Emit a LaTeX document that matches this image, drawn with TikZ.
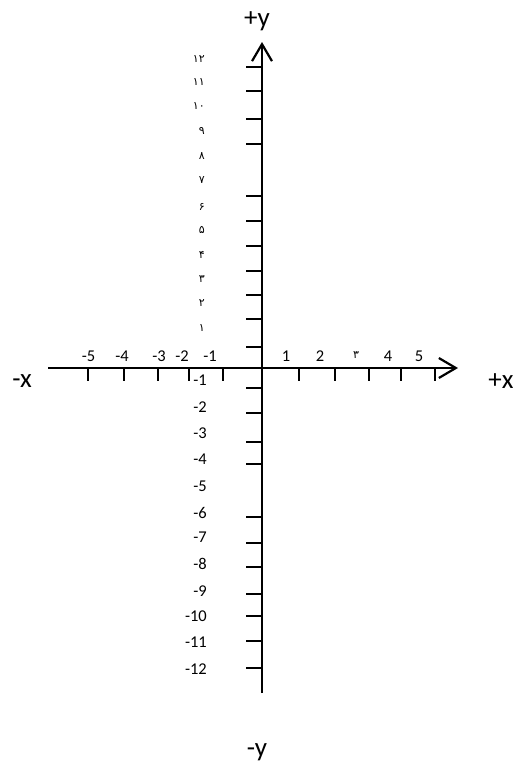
\documentclass[tikz,border=0pt]{standalone}
\usepackage{fontspec}
\setmainfont{Carlito}
\newfontfamily\fa[Script=Arabic]{DejaVu Sans}
\usetikzlibrary{arrows.meta}
\tikzset{
  axisline/.style={line width=2.6pt, -{Straight Barb[length=17pt,width=20pt,line width=2.2pt]}},
  tickline/.style={line width=2pt},
  num/.style={font=\fontsize{16.5}{16.5}\selectfont, inner sep=0pt},
  fanum/.style={font=\fa\fontsize{11}{11}\selectfont, inner sep=0pt},
  axlab/.style={font=\fontsize{27}{27}\selectfont, inner sep=0pt}
}
\begin{document}
\begin{tikzpicture}[x=1pt,y=-1pt]
\useasboundingbox (0,0) rectangle (513,766);
\coordinate (xl) at (48,368);
\coordinate (xr) at (458,368);
\coordinate (yb) at (262,693);
\coordinate (yt) at (262,42);
\draw[axisline] (xl) -- (xr);
\draw[axisline] (yb) -- (yt);
% y ticks
\foreach \t in {67,91,119,144,196,221,246,271,295,319,347,388,413,442,464,517,543,567,594,616,641,668}
  \draw[tickline] (246,\t) -- (262,\t);
% x ticks
\foreach \t in {88,124,158,189,223,299,335,369,401,435}
  \draw[tickline] (\t,368) -- (\t,381);
% upper labels (Persian digits)
\foreach \y/\d [count=\i] in {59/۱۲,82/۱۱,106/۱۰,131/۹,156/۸,180/۷,207/۶,230/۵,255/۴,279/۳,303/۲,328/۱}
  \node[fanum, anchor=east] (p\i) at (205,\y) {\d};
% lower labels
\foreach \y/\d [count=\i] in {380/-1,407/-2,433/-3,459/-4,486/-5,513/-6,537/-7,564/-8,591/-9,616/-10,642/-11,669/-12}
  \node[num, anchor=east] (n\i) at (207,\y) {\d};
% x labels
\foreach \x/\d [count=\i] in {88.5/-5,122/-4,159/-3,182/-2,210/-1,286/1,320/2,388/4,419/5}
  \node[num] (xlab\i) at (\x,356) {\d};
\node[fanum] (x3) at (356,355) {۳};
% axis labels
\node[axlab] (mx) at (22,381) {-x};
\node[axlab] (px) at (501,381) {+x};
\node[axlab] (py) at (257,21) {+y};
\node[axlab] (my) at (257,752) {-y};
\end{tikzpicture}
\end{document}
